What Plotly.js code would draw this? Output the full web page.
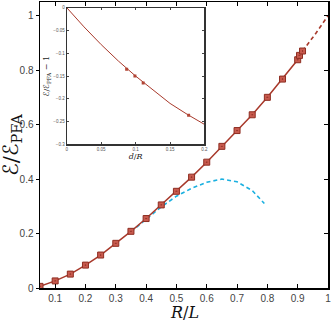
<!DOCTYPE html>
<html>
<head>
<meta charset="utf-8">
<script src="https://cdn.plot.ly/plotly-3.0.1.min.js"></script>
<style>body{margin:0;background:#fff}#graph{width:332px;height:320px}</style>
</head>
<body>
<div id="graph"></div>
<script>
// main curve, exact energy ratio
const rl = [0.05, 0.1, 0.15, 0.2, 0.25, 0.3, 0.35, 0.4, 0.45, 0.5, 0.55, 0.6, 0.65, 0.7, 0.75, 0.8, 0.85, 0.9, 0.906, 0.916];
const ratio = [0.006, 0.026, 0.051, 0.084, 0.121, 0.164, 0.208, 0.255, 0.305, 0.355, 0.407, 0.462, 0.520, 0.578, 0.636, 0.700, 0.767, 0.838, 0.854, 0.870];
// extrapolated part
const rlExt = [0.916, 0.96, 1.0];
const ratioExt = [0.870, 0.935, 1.0];
// blue dashed approximation
const rlApprox = [0.35, 0.4, 0.45, 0.5, 0.55, 0.6, 0.65, 0.7, 0.75, 0.79];
const ratioApprox = [0.206, 0.252, 0.298, 0.337, 0.366, 0.388, 0.400, 0.390, 0.358, 0.31];
// inset
const dR = [0, 0.025, 0.05, 0.075, 0.1, 0.125, 0.15, 0.175, 0.2];
const dev = [0, -0.042, -0.081, -0.117, -0.150, -0.181, -0.210, -0.234, -0.256];
const dRPts = [0.087, 0.099, 0.111, 0.177];
const devPts = [-0.135, -0.150, -0.165, -0.236];

const red = '#a8392b';
const tickFont = { family: 'Liberation Sans, Arial, sans-serif', size: 10, color: '#444' };
const smallFont = { family: 'Liberation Sans, Arial, sans-serif', size: 4.5, color: '#555' };
const E = '<span style="font-family:DejaVu Sans">ℰ</span>';

const traces = [
    { x: rlApprox, y: ratioApprox, mode: 'lines', line: { color: '#1ab0e0', width: 1.6, dash: '4px,3px' }, hoverinfo: 'skip' },
    { x: rlExt, y: ratioExt, mode: 'lines', line: { color: red, width: 1.6, dash: '4px,3px' }, hoverinfo: 'skip' },
    { x: rl, y: ratio, mode: 'lines+markers', line: { color: red, width: 1.5 },
      marker: { symbol: 'square-dot', size: 6, color: '#c85a4e', line: { color: '#8e2e22', width: 1 } } },
    // mirror axis on the right with inside ticks
    { x: [], y: [], xaxis: 'x', yaxis: 'y3', mode: 'lines', hoverinfo: 'skip' },
    { x: dR, y: dev, xaxis: 'x2', yaxis: 'y2', mode: 'lines', line: { color: red, width: 1 } },
    { x: dRPts, y: devPts, xaxis: 'x2', yaxis: 'y2', mode: 'markers',
      marker: { symbol: 'square', size: 3, color: '#b24535' } }
];

const layout = {
    width: 332, height: 320,
    margin: { l: 40, r: 4, t: 2, b: 32 },
    showlegend: false,
    paper_bgcolor: '#fff', plot_bgcolor: '#fff',
    xaxis: {
        range: [0.05, 1], tickvals: [0.1, 0.2, 0.3, 0.4, 0.5, 0.6, 0.7, 0.8, 0.9, 1],
        ticktext: ['0.1', '0.2', '0.3', '0.4', '0.5', '0.6', '0.7', '0.8', '0.9', '1'],
        ticks: 'inside', ticklen: 4, tickcolor: '#000', mirror: 'ticks',
        showline: true, linecolor: '#000', linewidth: 1.5, showgrid: false, zeroline: false,
        tickfont: tickFont, automargin: false
    },
    yaxis: {
        range: [0, 1.05], tickvals: [0, 0.2, 0.4, 0.6, 0.8, 1], ticktext: ['0', '0.2', '0.4', '0.6', '0.8', '1'],
        ticks: 'outside', ticklen: 3, tickcolor: '#000', mirror: true,
        showline: true, linecolor: '#000', linewidth: 1.5, showgrid: false, zeroline: false,
        tickfont: tickFont, automargin: false
    },
    yaxis3: {
        overlaying: 'y', side: 'right', anchor: 'x', range: [0, 1.05],
        tickvals: [0, 0.2, 0.4, 0.6, 0.8, 1], ticks: 'inside', ticklen: 4, tickcolor: '#000',
        showticklabels: false, showgrid: false, zeroline: false, showline: false
    },
    xaxis2: {
        domain: [0.093, 0.571], anchor: 'y2', range: [0, 0.2],
        tickvals: [0, 0.05, 0.1, 0.15, 0.2], ticks: 'inside', ticklen: 2, mirror: 'ticks',
        showline: true, linecolor: '#333', linewidth: 1.2, showgrid: false, zeroline: false,
        tickfont: smallFont,
        title: { text: '<i>d</i>/<i>R</i>', font: { family: 'DejaVu Serif, serif', size: 8, color: '#222' }, standoff: 1 }
    },
    yaxis2: {
        domain: [0.502, 0.98], anchor: 'x2', range: [-0.3, 0],
        tickvals: [0, -0.05, -0.1, -0.15, -0.2, -0.25, -0.3], ticks: 'inside', ticklen: 2, mirror: 'ticks',
        showline: true, linecolor: '#333', linewidth: 1.2, showgrid: false, zeroline: false,
        tickfont: smallFont,
        title: { text: E + '/' + E + '<sub>PFA</sub> − 1', font: { family: 'DejaVu Serif, serif', size: 8, color: '#222' }, standoff: 2 }
    },
    annotations: [
        { text: '<i>R</i>/<i>L</i>', xref: 'paper', yref: 'paper', x: 0.5, y: -0.084,
          xanchor: 'center', yanchor: 'middle', showarrow: false,
          font: { family: 'DejaVu Serif, serif', size: 16, color: '#111' } },
        { text: E + '/' + E + '<sub>PFA</sub>', xref: 'paper', yref: 'paper', x: -0.097, y: 0.5,
          xanchor: 'center', yanchor: 'middle', showarrow: false, textangle: -90,
          font: { family: 'DejaVu Serif, serif', size: 21, color: '#111' } }
    ]
};

Plotly.newPlot('graph', traces, layout, { displayModeBar: false, staticPlot: true });
</script>
</body>
</html>
